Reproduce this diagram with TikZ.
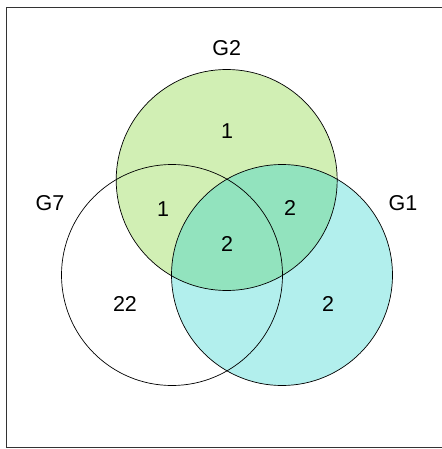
\documentclass[tikz,border=0pt]{standalone}
\usepackage{fontspec}
\setmainfont{Liberation Sans}
\definecolor{gtwo}{RGB}{209,239,180}
\definecolor{gone}{RGB}{178,239,237}
\definecolor{gboth}{RGB}{146,227,190}
\begin{document}
\begin{tikzpicture}[x=1pt, y=-1pt, every node/.style={font=\fontsize{21.5}{24}\selectfont}, ring/.style={draw, line width=0.7pt}, frame/.style={draw, line width=0.9pt, black!80}]
\useasboundingbox (0,0) rectangle (441,449);
\draw[frame] (6.5,7.5) rectangle (446,447.5);
% set centres
\coordinate (c2) at (226.7,180);
\coordinate (c7) at (172,275);
\coordinate (c1) at (282,275);
% fills, G2 over G1 gives the darker lens
\fill[gtwo] (c2) circle (110.5pt);
\fill[gone] (c1) circle (110.5pt);
\begin{scope}
\clip (c1) circle (110.5pt);
\fill[gboth] (c2) circle (110.5pt);
\end{scope}
\draw[ring] (c2) circle (110.5pt);
\draw[ring] (c7) circle (110.5pt);
\draw[ring] (c1) circle (110.5pt);
% set names
\node (n2) at (226.7,48) {G2};
\node (n7) at (50,203) {G7};
\node (n1) at (403,203) {G1};
% counts
\node (only2) at (227,131) {1};
\node (s27) at (163,209) {1};
\node (s21) at (290,208) {2};
\node (s271) at (227,244) {2};
\node (only7) at (125,304) {22};
\node (only1) at (328,304) {2};
\end{tikzpicture}
\end{document}
